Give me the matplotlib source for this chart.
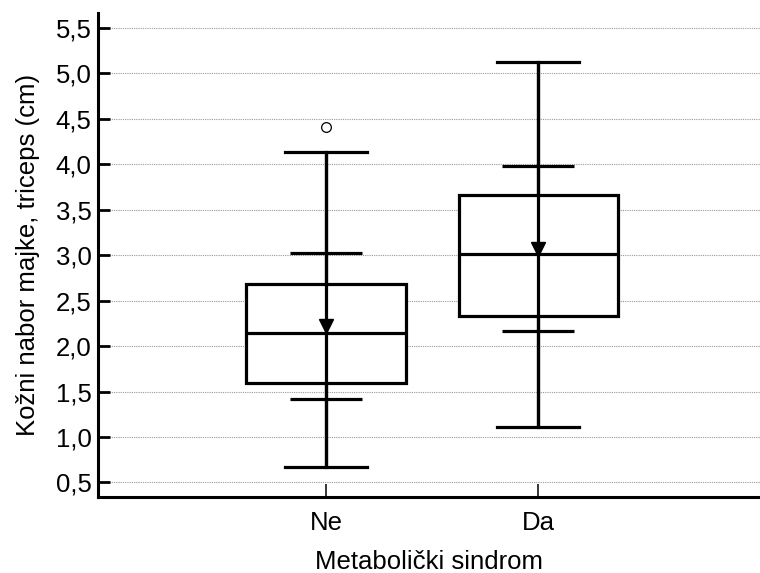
import numpy as np
import matplotlib
matplotlib.use("Agg")
import matplotlib.pyplot as plt
from matplotlib.ticker import FuncFormatter

plt.rcParams['font.family'] = ['Liberation Sans', 'DejaVu Sans']

groups = ["Ne", "Da"]
whis_low = [0.67, 1.11]
q1 = [1.59, 2.33]
medians = [2.14, 3.01]
q3 = [2.68, 3.66]
whis_high = [4.13, 5.12]
means = [2.22, 3.07]
sds = [0.80, 0.91]
outliers = [[4.41], []]

positions = [1, 2]

fig = plt.figure(figsize=(7.6, 5.73), dpi=100)
ax = fig.add_axes([0.1296, 0.1326, 0.8704, 0.8442])

stats = []
for i, g in enumerate(groups):
    stats.append(dict(label=g, whislo=whis_low[i], q1=q1[i], med=medians[i],
                      q3=q3[i], whishi=whis_high[i], mean=means[i],
                      fliers=outliers[i]))

lw = 2.3
ax.bxp(stats, positions=positions, widths=0.75, capwidths=0.385,
       showmeans=True, patch_artist=True,
       boxprops=dict(facecolor='white', edgecolor='black', linewidth=lw),
       medianprops=dict(color='black', linewidth=lw),
       whiskerprops=dict(color='black', linewidth=lw),
       capprops=dict(color='black', linewidth=lw),
       flierprops=dict(marker='o', markerfacecolor='white', markeredgecolor='black',
                       markersize=7, markeredgewidth=0.9),
       meanprops=dict(marker='v', markerfacecolor='black', markeredgecolor='black',
                      markersize=9.5, zorder=5))

# whisker line runs through the box
ax.vlines(positions, whis_low, whis_high, colors='black', linewidth=lw, zorder=4)

# mean +/- SD marks
m = np.array(means)
s = np.array(sds)
p = np.array(positions)
ax.hlines(m + s, p - 0.17, p + 0.17, colors='black', linewidth=lw, zorder=4)
ax.hlines(m - s, p - 0.17, p + 0.17, colors='black', linewidth=lw, zorder=4)

ax.set_xlim(-0.0716, 3.044)
ax.set_ylim(0.34, 5.658)
ax.set_yticks(np.arange(0.5, 5.51, 0.5))
ax.yaxis.set_major_formatter(FuncFormatter(lambda v, _: f"{v:.1f}".replace('.', ',')))
ax.set_xticks(positions)
ax.set_xticklabels(groups)

ax.set_axisbelow(True)
ax.yaxis.grid(True, linestyle=(0, (1, 1)), color='#999999', linewidth=0.8)

for side in ['top', 'right']:
    ax.spines[side].set_visible(False)
for side in ['left', 'bottom']:
    ax.spines[side].set_linewidth(2.2)

ax.tick_params(axis='y', direction='in', length=8.5, width=2, labelsize=18.5, pad=5)
ax.tick_params(axis='x', direction='in', length=9.5, width=1.1, labelsize=18.5, pad=10)

ax.set_xlabel("Metabolički sindrom", fontsize=18.5)
ax.set_ylabel("Kožni nabor majke, triceps (cm)", fontsize=18.5)
ax.xaxis.set_label_coords(0.5, -0.11)
ax.yaxis.set_label_coords(-0.089, 0.5)

plt.savefig('out.png', dpi=100)
